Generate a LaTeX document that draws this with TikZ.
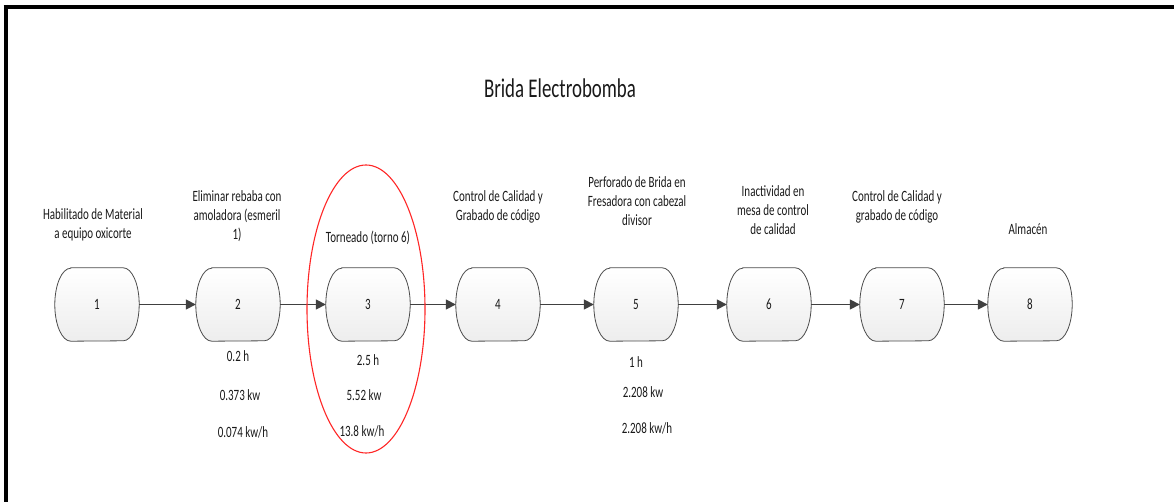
\documentclass[tikz,border=0pt]{standalone}
\usepackage{fontspec}
\setmainfont{Carlito}
% narrow, tall lettering used throughout the chart
\newfontfamily\tallfont{Carlito}[FakeStretch=0.7]
\usetikzlibrary{arrows.meta}
\tikzset{
  proc/.style={rectangle, minimum width=84pt, minimum height=73pt, inner sep=0pt,
    font=\tallfont\fontsize{15.7}{19}\selectfont, text=black!90},
  procfill/.style={draw=black!70, line width=0.8pt, top color=white, bottom color=gray!14},
  caption/.style={align=center, font=\tallfont\fontsize{15.7}{19}\selectfont, text=black!90, inner sep=0pt},
  value/.style={font=\tallfont\fontsize{15.7}{19}\selectfont, text=black!90, inner sep=0pt},
  flow/.style={draw=black!75, line width=1.6pt, -{Triangle[length=10pt,width=10pt]}},
  frame/.style={line width=4pt, black},
  focus/.style={draw=red!85, line width=1.1pt},
}
% rounded-side process shape drawn from the anchors of a named node
\newcommand\procshape[1]{%
  \path[procfill] ([xshift=16pt]#1.north west) -- ([xshift=-16pt]#1.north east)
    arc[start angle=90, end angle=-90, x radius=16pt, y radius=36.5pt]
    -- ([xshift=16pt]#1.south west)
    arc[start angle=270, end angle=90, x radius=16pt, y radius=36.5pt] -- cycle;}
\begin{document}
\begin{tikzpicture}[x=1pt, y=-1pt]
  \useasboundingbox (0,0) rectangle (1174,502);
  % outer frame (top and left edges)
  \draw[frame] (3.5,7) -- (1174,7);
  \draw[frame] (5.5,5) -- (5.5,502);

  \node[font=\tallfont\fontsize{27}{30}\selectfont, text=black!90] (title) at (560,88) {Brida Electrobomba};

  % process steps
  \coordinate (p1) at (97,304.5);
  \coordinate (p2) at (238,304.5);
  \coordinate (p3) at (368,304.5);
  \coordinate (p4) at (498,304.5);
  \coordinate (p5) at (636,304.5);
  \coordinate (p6) at (769,304.5);
  \coordinate (p7) at (902,304.5);
  \coordinate (p8) at (1030,304.5);
  \foreach \i in {1,...,8} {
    \node[proc] (n\i) at (p\i) {};
    \procshape{n\i}
    \node[proc] at (n\i) {\i};
  }

  % flow connectors
  \foreach \a/\b in {1/2,2/3,3/4,4/5,5/6,6/7,7/8}
    \draw[flow] (n\a.east) -- (n\b.west);

  % step descriptions
  \node[caption] (c1) at (93,225) {Habilitado de Material\\a equipo oxicorte};
  \node[caption] (c2) at (237,216) {Eliminar rebaba con\\amoladora (esmeril\\1)};
  \node[caption] (c3) at (368,238) {Torneado (torno 6)};
  \node[caption] (c4) at (498,207) {Control de Calidad y\\Grabado de código};
  \node[caption] (c5) at (637,201) {Perforado de Brida en\\Fresadora con cabezal\\divisor};
  \node[caption] (c6) at (773,210) {Inactividad en\\mesa de control\\de calidad};
  \node[caption] (c7) at (897,207) {Control de Calidad y\\grabado de código};
  \node[caption] (c8) at (1028,229) {Almacén};

  % time and power values
  \node[value] (t2) at (238,356) {0.2 h};
  \node[value] (w2) at (240,395) {0.373 kw};
  \node[value] (e2) at (243,432) {0.074 kw/h};
  \node[value] (t3) at (368,360) {2.5 h};
  \node[value] (w3) at (364,395) {5.52 kw};
  \node[value] (e3) at (362,431) {13.8 kw/h};
  \node[value] (t5) at (636,362) {1 h};
  \node[value] (w5) at (643,392) {2.208 kw};
  \node[value] (e5) at (647,428) {2.208 kw/h};

  % highlighted step
  \draw[focus] (366,309) ellipse[x radius=59, y radius=144];
\end{tikzpicture}
\end{document}
